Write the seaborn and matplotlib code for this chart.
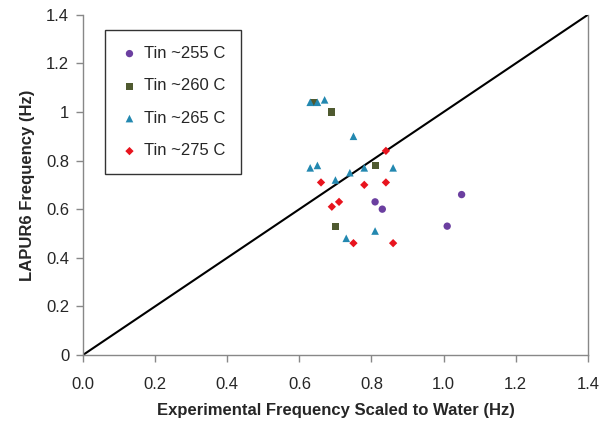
import pandas as pd
import matplotlib
matplotlib.use('Agg')
import matplotlib.pyplot as plt
import seaborn as sns

sns.set_style('white')
plt.rcParams['font.family'] = ['Liberation Sans', 'DejaVu Sans']

# Data
x_255 = [0.81, 0.83, 1.01, 1.05]
y_255 = [0.63, 0.60, 0.53, 0.66]

x_260 = [0.64, 0.69, 0.70, 0.81]
y_260 = [1.04, 1.00, 0.53, 0.78]

x_265 = [0.63, 0.65, 0.67, 0.75, 0.63, 0.65, 0.70, 0.74, 0.78, 0.86, 0.73, 0.81]
y_265 = [1.04, 1.04, 1.05, 0.90, 0.77, 0.78, 0.72, 0.75, 0.77, 0.77, 0.48, 0.51]

x_275 = [0.66, 0.69, 0.71, 0.75, 0.78, 0.84, 0.84, 0.86]
y_275 = [0.71, 0.61, 0.63, 0.46, 0.70, 0.84, 0.71, 0.46]

series = ['Tin ~255 C', 'Tin ~260 C', 'Tin ~265 C', 'Tin ~275 C']
xs = [x_255, x_260, x_265, x_275]
ys = [y_255, y_260, y_265, y_275]

frames = []
for name, xv, yv in zip(series, xs, ys):
    frames.append(pd.DataFrame({'Exp': xv, 'LAPUR': yv, 'Series': name}))
df = pd.concat(frames, ignore_index=True)

palette = {'Tin ~255 C': '#6B3FA0', 'Tin ~260 C': '#4F5A30',
           'Tin ~265 C': '#2388B0', 'Tin ~275 C': '#E8141E'}
markers = {'Tin ~255 C': 'o', 'Tin ~260 C': 's',
           'Tin ~265 C': '^', 'Tin ~275 C': 'D'}
sizes = {'Tin ~255 C': 28, 'Tin ~260 C': 26, 'Tin ~265 C': 30, 'Tin ~275 C': 18}

fig = plt.figure(figsize=(6.11, 4.24), dpi=100)
ax = fig.add_axes([0.136, 0.163, 0.826, 0.802])

# 1:1 line
ax.plot([0, 1.4], [0, 1.4], color='black', lw=1.5, zorder=1)

for name in series:
    sub = df[df['Series'] == name]
    sns.scatterplot(data=sub, x='Exp', y='LAPUR', color=palette[name],
                    marker=markers[name], s=sizes[name], edgecolor='none',
                    label=name, ax=ax, zorder=3)

ax.set_xlim(0, 1.4)
ax.set_ylim(0, 1.4)
ax.set_xticks([0, 0.2, 0.4, 0.6, 0.8, 1.0, 1.2, 1.4])
ax.set_xticklabels(['0.0', '0.2', '0.4', '0.6', '0.8', '1.0', '1.2', '1.4'])
ax.set_yticks([0, 0.2, 0.4, 0.6, 0.8, 1.0, 1.2, 1.4])
ax.set_yticklabels(['0', '0.2', '0.4', '0.6', '0.8', '1', '1.2', '1.4'])
ax.tick_params(axis='both', direction='out', length=5, width=1, color='#888888',
               labelsize=12, bottom=True, left=True)
ax.tick_params(axis='x', pad=11)
ax.tick_params(axis='y', pad=5)

for side in ['left', 'bottom', 'right', 'top']:
    ax.spines[side].set_color('#888888')
    ax.spines[side].set_linewidth(1)
ax.spines['top'].set_visible(False)

ax.set_xlabel('Experimental Frequency Scaled to Water (Hz)', fontsize=12, fontweight='bold', labelpad=8)
ax.set_ylabel('LAPUR6 Frequency (Hz)', fontsize=12, fontweight='bold', labelpad=8)

leg = ax.legend(loc='upper left', bbox_to_anchor=(0.044, 0.955), fontsize=12,
                labelspacing=1.05, handletextpad=0.35, handlelength=1.0,
                borderpad=0.95, fancybox=False, framealpha=1, borderaxespad=0)
leg.get_frame().set_edgecolor('#333333')
leg.get_frame().set_linewidth(1)

fig.savefig('out.png', dpi=100)
